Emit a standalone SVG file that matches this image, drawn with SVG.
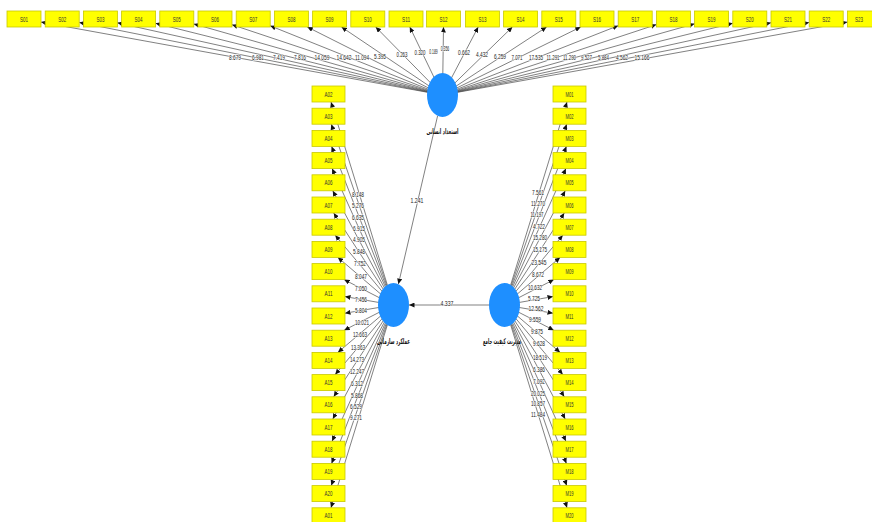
<svg xmlns="http://www.w3.org/2000/svg" width="872" height="522" viewBox="0 0 872 522">
<defs>
<marker id="ah" markerUnits="userSpaceOnUse" markerWidth="6" markerHeight="5" refX="5.5" refY="2.5" orient="auto">
<path d="M0,0 L5.5,2.5 L0,5 z" fill="#111"/>
</marker>
<style>
.box{fill:#ffff00;stroke:#c9c900;stroke-width:0.8}
.bl{font-family:"Liberation Sans",Arial,sans-serif;font-size:7.5px;fill:#333;text-anchor:middle}
.c{fill:#1e8fff}
.cn line{stroke:#4a4a4a;stroke-width:0.7;marker-end:url(#ah)}
.lb{font-family:"Liberation Sans",Arial,sans-serif;font-size:7.5px;fill:#222;text-anchor:middle;stroke:#fff;stroke-width:1.2px;paint-order:stroke;stroke-linejoin:round}
.ar{font-family:"DejaVu Sans",sans-serif;font-size:8px;font-weight:bold;fill:#111;text-anchor:middle}
</style>
</defs>
<rect width="872" height="522" fill="#fff"/>
<g id="connectors" class="cn">
<line x1="442.5" y1="95" x2="41" y2="22.1"/>
<line x1="442.5" y1="95" x2="79.2" y2="22.4"/>
<line x1="442.5" y1="95" x2="117.4" y2="22.8"/>
<line x1="442.5" y1="95" x2="155.6" y2="23.3"/>
<line x1="442.5" y1="95" x2="193.8" y2="23.9"/>
<line x1="442.5" y1="95" x2="232" y2="24.7"/>
<line x1="442.5" y1="95" x2="270.2" y2="25.8"/>
<line x1="442.5" y1="95" x2="307.3" y2="27"/>
<line x1="442.5" y1="95" x2="341.5" y2="27"/>
<line x1="442.5" y1="95" x2="375.7" y2="27"/>
<line x1="442.5" y1="95" x2="409.8" y2="27"/>
<line x1="442.5" y1="95" x2="443.5" y2="27"/>
<line x1="442.5" y1="95" x2="478.2" y2="27"/>
<line x1="442.5" y1="95" x2="512.4" y2="27"/>
<line x1="442.5" y1="95" x2="546.6" y2="27"/>
<line x1="442.5" y1="95" x2="580.7" y2="27"/>
<line x1="442.5" y1="95" x2="618.2" y2="25.7"/>
<line x1="442.5" y1="95" x2="656.4" y2="24.6"/>
<line x1="442.5" y1="95" x2="694.6" y2="23.8"/>
<line x1="442.5" y1="95" x2="732.8" y2="23.2"/>
<line x1="442.5" y1="95" x2="771" y2="22.7"/>
<line x1="442.5" y1="95" x2="809.2" y2="22.4"/>
<line x1="442.5" y1="95" x2="847.4" y2="22.1"/>

<line x1="393.5" y1="305" x2="331" y2="102"/>
<line x1="393.5" y1="305" x2="331.3" y2="124.2"/>
<line x1="393.5" y1="305" x2="331.6" y2="146.4"/>
<line x1="393.5" y1="305" x2="332.1" y2="168.6"/>
<line x1="393.5" y1="305" x2="332.8" y2="190.8"/>
<line x1="393.5" y1="305" x2="333.7" y2="213"/>
<line x1="393.5" y1="305" x2="335.2" y2="235.2"/>
<line x1="393.5" y1="305" x2="337.9" y2="257.4"/>
<line x1="393.5" y1="305" x2="344.1" y2="279.6"/>
<line x1="393.5" y1="305" x2="345" y2="296.6"/>
<line x1="393.5" y1="305" x2="345" y2="313.2"/>
<line x1="393.5" y1="305" x2="344.2" y2="330.2"/>
<line x1="393.5" y1="305" x2="337.9" y2="352.4"/>
<line x1="393.5" y1="305" x2="335.2" y2="374.6"/>
<line x1="393.5" y1="305" x2="333.7" y2="396.8"/>
<line x1="393.5" y1="305" x2="332.8" y2="419"/>
<line x1="393.5" y1="305" x2="332.1" y2="441.2"/>
<line x1="393.5" y1="305" x2="331.6" y2="463.4"/>
<line x1="393.5" y1="305" x2="331.3" y2="485.6"/>
<line x1="393.5" y1="305" x2="331" y2="507.8"/>

<line x1="504.5" y1="305" x2="567" y2="102"/>
<line x1="504.5" y1="305" x2="566.7" y2="124.2"/>
<line x1="504.5" y1="305" x2="566.4" y2="146.4"/>
<line x1="504.5" y1="305" x2="565.9" y2="168.6"/>
<line x1="504.5" y1="305" x2="565.2" y2="190.8"/>
<line x1="504.5" y1="305" x2="564.3" y2="213"/>
<line x1="504.5" y1="305" x2="562.8" y2="235.2"/>
<line x1="504.5" y1="305" x2="560.1" y2="257.4"/>
<line x1="504.5" y1="305" x2="553.9" y2="279.6"/>
<line x1="504.5" y1="305" x2="553" y2="296.6"/>
<line x1="504.5" y1="305" x2="553" y2="313.2"/>
<line x1="504.5" y1="305" x2="553.8" y2="330.2"/>
<line x1="504.5" y1="305" x2="560.1" y2="352.4"/>
<line x1="504.5" y1="305" x2="562.8" y2="374.6"/>
<line x1="504.5" y1="305" x2="564.3" y2="396.8"/>
<line x1="504.5" y1="305" x2="565.2" y2="419"/>
<line x1="504.5" y1="305" x2="565.9" y2="441.2"/>
<line x1="504.5" y1="305" x2="566.4" y2="463.4"/>
<line x1="504.5" y1="305" x2="566.7" y2="485.6"/>
<line x1="504.5" y1="305" x2="567" y2="507.8"/>

<line x1="437.6" y1="115.9" x2="398.4" y2="284.1"/>
<line x1="489" y1="305" x2="409" y2="305"/>
</g>

<g id="edge-labels">
<text class="lb" x="235" y="60" textLength="12" lengthAdjust="spacingAndGlyphs">8.679</text>
<text class="lb" x="258" y="60" textLength="12" lengthAdjust="spacingAndGlyphs">6.981</text>
<text class="lb" x="279" y="60" textLength="12" lengthAdjust="spacingAndGlyphs">7.419</text>
<text class="lb" x="300" y="60" textLength="12" lengthAdjust="spacingAndGlyphs">7.816</text>
<text class="lb" x="322" y="60" textLength="15" lengthAdjust="spacingAndGlyphs">14.059</text>
<text class="lb" x="344" y="60" textLength="15" lengthAdjust="spacingAndGlyphs">14.642</text>
<text class="lb" x="362" y="60" textLength="14" lengthAdjust="spacingAndGlyphs">11.094</text>
<text class="lb" x="380" y="59" textLength="12" lengthAdjust="spacingAndGlyphs">5.395</text>
<text class="lb" x="402" y="57" textLength="11" lengthAdjust="spacingAndGlyphs">0.263</text>
<text class="lb" x="420" y="55" textLength="11" lengthAdjust="spacingAndGlyphs">0.320</text>
<text class="lb" x="433.5" y="54" textLength="8.5" lengthAdjust="spacingAndGlyphs">0.189</text>
<text class="lb" x="445" y="51" textLength="8.5" lengthAdjust="spacingAndGlyphs">0.356</text>
<text class="lb" x="464" y="55" textLength="12" lengthAdjust="spacingAndGlyphs">0.662</text>
<text class="lb" x="482" y="57" textLength="12" lengthAdjust="spacingAndGlyphs">4.432</text>
<text class="lb" x="500" y="59" textLength="12" lengthAdjust="spacingAndGlyphs">6.259</text>
<text class="lb" x="517" y="60" textLength="11" lengthAdjust="spacingAndGlyphs">7.071</text>
<text class="lb" x="536" y="60" textLength="14" lengthAdjust="spacingAndGlyphs">17.535</text>
<text class="lb" x="553" y="60" textLength="13" lengthAdjust="spacingAndGlyphs">11.291</text>
<text class="lb" x="569.5" y="60" textLength="13" lengthAdjust="spacingAndGlyphs">11.290</text>
<text class="lb" x="586.5" y="60" textLength="11" lengthAdjust="spacingAndGlyphs">9.527</text>
<text class="lb" x="603.5" y="60" textLength="11" lengthAdjust="spacingAndGlyphs">5.884</text>
<text class="lb" x="622" y="60" textLength="12" lengthAdjust="spacingAndGlyphs">4.562</text>
<text class="lb" x="642" y="60" textLength="15" lengthAdjust="spacingAndGlyphs">15.166</text>

<text class="lb" x="358" y="197" textLength="12" lengthAdjust="spacingAndGlyphs">8.148</text>
<text class="lb" x="358" y="208" textLength="12" lengthAdjust="spacingAndGlyphs">5.276</text>
<text class="lb" x="358" y="220" textLength="12" lengthAdjust="spacingAndGlyphs">6.635</text>
<text class="lb" x="359" y="231" textLength="12" lengthAdjust="spacingAndGlyphs">6.915</text>
<text class="lb" x="359" y="242" textLength="12" lengthAdjust="spacingAndGlyphs">4.905</text>
<text class="lb" x="359" y="254" textLength="12" lengthAdjust="spacingAndGlyphs">5.848</text>
<text class="lb" x="360" y="266" textLength="12" lengthAdjust="spacingAndGlyphs">7.752</text>
<text class="lb" x="361" y="279" textLength="12" lengthAdjust="spacingAndGlyphs">8.047</text>
<text class="lb" x="361" y="291" textLength="12" lengthAdjust="spacingAndGlyphs">7.050</text>
<text class="lb" x="361" y="302" textLength="12" lengthAdjust="spacingAndGlyphs">7.456</text>
<text class="lb" x="361" y="313" textLength="12" lengthAdjust="spacingAndGlyphs">5.804</text>
<text class="lb" x="362" y="325" textLength="14" lengthAdjust="spacingAndGlyphs">10.021</text>
<text class="lb" x="360" y="337" textLength="14" lengthAdjust="spacingAndGlyphs">12.663</text>
<text class="lb" x="358" y="350" textLength="14" lengthAdjust="spacingAndGlyphs">13.363</text>
<text class="lb" x="357" y="362" textLength="14" lengthAdjust="spacingAndGlyphs">14.273</text>
<text class="lb" x="357" y="374" textLength="14" lengthAdjust="spacingAndGlyphs">12.247</text>
<text class="lb" x="357" y="386" textLength="12" lengthAdjust="spacingAndGlyphs">6.312</text>
<text class="lb" x="357" y="398" textLength="12" lengthAdjust="spacingAndGlyphs">5.868</text>
<text class="lb" x="356" y="409" textLength="12" lengthAdjust="spacingAndGlyphs">6.529</text>
<text class="lb" x="356" y="420" textLength="12" lengthAdjust="spacingAndGlyphs">9.271</text>

<text class="lb" x="538" y="195" textLength="12" lengthAdjust="spacingAndGlyphs">7.561</text>
<text class="lb" x="538" y="206" textLength="14" lengthAdjust="spacingAndGlyphs">11.270</text>
<text class="lb" x="537" y="217" textLength="13" lengthAdjust="spacingAndGlyphs">11.197</text>
<text class="lb" x="539" y="229" textLength="12" lengthAdjust="spacingAndGlyphs">4.722</text>
<text class="lb" x="540" y="240" textLength="14" lengthAdjust="spacingAndGlyphs">15.280</text>
<text class="lb" x="540" y="252" textLength="14" lengthAdjust="spacingAndGlyphs">15.175</text>
<text class="lb" x="539" y="265" textLength="15" lengthAdjust="spacingAndGlyphs">23.545</text>
<text class="lb" x="538" y="277" textLength="12" lengthAdjust="spacingAndGlyphs">8.672</text>
<text class="lb" x="535" y="290" textLength="14" lengthAdjust="spacingAndGlyphs">10.632</text>
<text class="lb" x="534" y="300.5" textLength="12" lengthAdjust="spacingAndGlyphs">5.725</text>
<text class="lb" x="536" y="311" textLength="15" lengthAdjust="spacingAndGlyphs">12.562</text>
<text class="lb" x="535" y="321.5" textLength="12" lengthAdjust="spacingAndGlyphs">9.559</text>
<text class="lb" x="537" y="334" textLength="12" lengthAdjust="spacingAndGlyphs">9.875</text>
<text class="lb" x="539" y="346" textLength="12" lengthAdjust="spacingAndGlyphs">9.628</text>
<text class="lb" x="540" y="360" textLength="14" lengthAdjust="spacingAndGlyphs">18.519</text>
<text class="lb" x="539" y="372" textLength="12" lengthAdjust="spacingAndGlyphs">6.386</text>
<text class="lb" x="539" y="384" textLength="12" lengthAdjust="spacingAndGlyphs">7.092</text>
<text class="lb" x="538" y="395.5" textLength="14" lengthAdjust="spacingAndGlyphs">20.025</text>
<text class="lb" x="538" y="406" textLength="14" lengthAdjust="spacingAndGlyphs">10.857</text>
<text class="lb" x="538" y="416.5" textLength="14" lengthAdjust="spacingAndGlyphs">11.484</text>

<text class="lb" x="417" y="203" textLength="13" lengthAdjust="spacingAndGlyphs">1.241</text>
<text class="lb" x="447" y="306" textLength="13" lengthAdjust="spacingAndGlyphs">4.337</text>
</g>

<g id="node-S">
<g id="S01"><rect class="box" x="7" y="11" width="34" height="16"/><text class="bl" x="24" y="21.5" textLength="8" lengthAdjust="spacingAndGlyphs">S01</text></g>
<g id="S02"><rect class="box" x="45.2" y="11" width="34" height="16"/><text class="bl" x="62.2" y="21.5" textLength="8" lengthAdjust="spacingAndGlyphs">S02</text></g>
<g id="S03"><rect class="box" x="83.4" y="11" width="34" height="16"/><text class="bl" x="100.4" y="21.5" textLength="8" lengthAdjust="spacingAndGlyphs">S03</text></g>
<g id="S04"><rect class="box" x="121.6" y="11" width="34" height="16"/><text class="bl" x="138.6" y="21.5" textLength="8" lengthAdjust="spacingAndGlyphs">S04</text></g>
<g id="S05"><rect class="box" x="159.8" y="11" width="34" height="16"/><text class="bl" x="176.8" y="21.5" textLength="8" lengthAdjust="spacingAndGlyphs">S05</text></g>
<g id="S06"><rect class="box" x="198" y="11" width="34" height="16"/><text class="bl" x="215" y="21.5" textLength="8" lengthAdjust="spacingAndGlyphs">S06</text></g>
<g id="S07"><rect class="box" x="236.2" y="11" width="34" height="16"/><text class="bl" x="253.2" y="21.5" textLength="8" lengthAdjust="spacingAndGlyphs">S07</text></g>
<g id="S08"><rect class="box" x="274.4" y="11" width="34" height="16"/><text class="bl" x="291.4" y="21.5" textLength="8" lengthAdjust="spacingAndGlyphs">S08</text></g>
<g id="S09"><rect class="box" x="312.6" y="11" width="34" height="16"/><text class="bl" x="329.6" y="21.5" textLength="8" lengthAdjust="spacingAndGlyphs">S09</text></g>
<g id="S10"><rect class="box" x="350.8" y="11" width="34" height="16"/><text class="bl" x="367.8" y="21.5" textLength="8" lengthAdjust="spacingAndGlyphs">S10</text></g>
<g id="S11"><rect class="box" x="389" y="11" width="34" height="16"/><text class="bl" x="406" y="21.5" textLength="8" lengthAdjust="spacingAndGlyphs">S11</text></g>
<g id="S12"><rect class="box" x="426.5" y="11" width="34" height="16"/><text class="bl" x="443.5" y="21.5" textLength="8" lengthAdjust="spacingAndGlyphs">S12</text></g>
<g id="S13"><rect class="box" x="465.4" y="11" width="34" height="16"/><text class="bl" x="482.4" y="21.5" textLength="8" lengthAdjust="spacingAndGlyphs">S13</text></g>
<g id="S14"><rect class="box" x="503.6" y="11" width="34" height="16"/><text class="bl" x="520.6" y="21.5" textLength="8" lengthAdjust="spacingAndGlyphs">S14</text></g>
<g id="S15"><rect class="box" x="541.8" y="11" width="34" height="16"/><text class="bl" x="558.8" y="21.5" textLength="8" lengthAdjust="spacingAndGlyphs">S15</text></g>
<g id="S16"><rect class="box" x="580" y="11" width="34" height="16"/><text class="bl" x="597" y="21.5" textLength="8" lengthAdjust="spacingAndGlyphs">S16</text></g>
<g id="S17"><rect class="box" x="618.2" y="11" width="34" height="16"/><text class="bl" x="635.2" y="21.5" textLength="8" lengthAdjust="spacingAndGlyphs">S17</text></g>
<g id="S18"><rect class="box" x="656.4" y="11" width="34" height="16"/><text class="bl" x="673.4" y="21.5" textLength="8" lengthAdjust="spacingAndGlyphs">S18</text></g>
<g id="S19"><rect class="box" x="694.6" y="11" width="34" height="16"/><text class="bl" x="711.6" y="21.5" textLength="8" lengthAdjust="spacingAndGlyphs">S19</text></g>
<g id="S20"><rect class="box" x="732.8" y="11" width="34" height="16"/><text class="bl" x="749.8" y="21.5" textLength="8" lengthAdjust="spacingAndGlyphs">S20</text></g>
<g id="S21"><rect class="box" x="771" y="11" width="34" height="16"/><text class="bl" x="788" y="21.5" textLength="8" lengthAdjust="spacingAndGlyphs">S21</text></g>
<g id="S22"><rect class="box" x="809.2" y="11" width="34" height="16"/><text class="bl" x="826.2" y="21.5" textLength="8" lengthAdjust="spacingAndGlyphs">S22</text></g>
<g id="S23"><rect class="box" x="847.4" y="11" width="34" height="16"/><text class="bl" x="859" y="21.5" textLength="8" lengthAdjust="spacingAndGlyphs">S23</text></g>
</g>

<g id="node-A">
<g id="A02"><rect class="box" x="312" y="86" width="33" height="16"/><text class="bl" x="328.5" y="96.5" textLength="8" lengthAdjust="spacingAndGlyphs">A02</text></g>
<g id="A03"><rect class="box" x="312" y="108.2" width="33" height="16"/><text class="bl" x="328.5" y="118.7" textLength="8" lengthAdjust="spacingAndGlyphs">A03</text></g>
<g id="A04"><rect class="box" x="312" y="130.4" width="33" height="16"/><text class="bl" x="328.5" y="140.9" textLength="8" lengthAdjust="spacingAndGlyphs">A04</text></g>
<g id="A05"><rect class="box" x="312" y="152.6" width="33" height="16"/><text class="bl" x="328.5" y="163.1" textLength="8" lengthAdjust="spacingAndGlyphs">A05</text></g>
<g id="A06"><rect class="box" x="312" y="174.8" width="33" height="16"/><text class="bl" x="328.5" y="185.3" textLength="8" lengthAdjust="spacingAndGlyphs">A06</text></g>
<g id="A07"><rect class="box" x="312" y="197" width="33" height="16"/><text class="bl" x="328.5" y="207.5" textLength="8" lengthAdjust="spacingAndGlyphs">A07</text></g>
<g id="A08"><rect class="box" x="312" y="219.2" width="33" height="16"/><text class="bl" x="328.5" y="229.7" textLength="8" lengthAdjust="spacingAndGlyphs">A08</text></g>
<g id="A09"><rect class="box" x="312" y="241.4" width="33" height="16"/><text class="bl" x="328.5" y="251.9" textLength="8" lengthAdjust="spacingAndGlyphs">A09</text></g>
<g id="A10"><rect class="box" x="312" y="263.6" width="33" height="16"/><text class="bl" x="328.5" y="274.1" textLength="8" lengthAdjust="spacingAndGlyphs">A10</text></g>
<g id="A11"><rect class="box" x="312" y="285.8" width="33" height="16"/><text class="bl" x="328.5" y="296.3" textLength="8" lengthAdjust="spacingAndGlyphs">A11</text></g>
<g id="A12"><rect class="box" x="312" y="308" width="33" height="16"/><text class="bl" x="328.5" y="318.5" textLength="8" lengthAdjust="spacingAndGlyphs">A12</text></g>
<g id="A13"><rect class="box" x="312" y="330.2" width="33" height="16"/><text class="bl" x="328.5" y="340.7" textLength="8" lengthAdjust="spacingAndGlyphs">A13</text></g>
<g id="A14"><rect class="box" x="312" y="352.4" width="33" height="16"/><text class="bl" x="328.5" y="362.9" textLength="8" lengthAdjust="spacingAndGlyphs">A14</text></g>
<g id="A15"><rect class="box" x="312" y="374.6" width="33" height="16"/><text class="bl" x="328.5" y="385.1" textLength="8" lengthAdjust="spacingAndGlyphs">A15</text></g>
<g id="A16"><rect class="box" x="312" y="396.8" width="33" height="16"/><text class="bl" x="328.5" y="407.3" textLength="8" lengthAdjust="spacingAndGlyphs">A16</text></g>
<g id="A17"><rect class="box" x="312" y="419" width="33" height="16"/><text class="bl" x="328.5" y="429.5" textLength="8" lengthAdjust="spacingAndGlyphs">A17</text></g>
<g id="A18"><rect class="box" x="312" y="441.2" width="33" height="16"/><text class="bl" x="328.5" y="451.7" textLength="8" lengthAdjust="spacingAndGlyphs">A18</text></g>
<g id="A19"><rect class="box" x="312" y="463.4" width="33" height="16"/><text class="bl" x="328.5" y="473.9" textLength="8" lengthAdjust="spacingAndGlyphs">A19</text></g>
<g id="A20"><rect class="box" x="312" y="485.6" width="33" height="16"/><text class="bl" x="328.5" y="496.1" textLength="8" lengthAdjust="spacingAndGlyphs">A20</text></g>
<g id="A01"><rect class="box" x="312" y="507.8" width="33" height="16"/><text class="bl" x="328.5" y="518.3" textLength="8" lengthAdjust="spacingAndGlyphs">A01</text></g>
</g>

<g id="node-M">
<g id="M01"><rect class="box" x="553" y="86" width="33" height="16"/><text class="bl" x="569.5" y="96.5" textLength="8" lengthAdjust="spacingAndGlyphs">M01</text></g>
<g id="M02"><rect class="box" x="553" y="108.2" width="33" height="16"/><text class="bl" x="569.5" y="118.7" textLength="8" lengthAdjust="spacingAndGlyphs">M02</text></g>
<g id="M03"><rect class="box" x="553" y="130.4" width="33" height="16"/><text class="bl" x="569.5" y="140.9" textLength="8" lengthAdjust="spacingAndGlyphs">M03</text></g>
<g id="M04"><rect class="box" x="553" y="152.6" width="33" height="16"/><text class="bl" x="569.5" y="163.1" textLength="8" lengthAdjust="spacingAndGlyphs">M04</text></g>
<g id="M05"><rect class="box" x="553" y="174.8" width="33" height="16"/><text class="bl" x="569.5" y="185.3" textLength="8" lengthAdjust="spacingAndGlyphs">M05</text></g>
<g id="M06"><rect class="box" x="553" y="197" width="33" height="16"/><text class="bl" x="569.5" y="207.5" textLength="8" lengthAdjust="spacingAndGlyphs">M06</text></g>
<g id="M07"><rect class="box" x="553" y="219.2" width="33" height="16"/><text class="bl" x="569.5" y="229.7" textLength="8" lengthAdjust="spacingAndGlyphs">M07</text></g>
<g id="M08"><rect class="box" x="553" y="241.4" width="33" height="16"/><text class="bl" x="569.5" y="251.9" textLength="8" lengthAdjust="spacingAndGlyphs">M08</text></g>
<g id="M09"><rect class="box" x="553" y="263.6" width="33" height="16"/><text class="bl" x="569.5" y="274.1" textLength="8" lengthAdjust="spacingAndGlyphs">M09</text></g>
<g id="M10"><rect class="box" x="553" y="285.8" width="33" height="16"/><text class="bl" x="569.5" y="296.3" textLength="8" lengthAdjust="spacingAndGlyphs">M10</text></g>
<g id="M11"><rect class="box" x="553" y="308" width="33" height="16"/><text class="bl" x="569.5" y="318.5" textLength="8" lengthAdjust="spacingAndGlyphs">M11</text></g>
<g id="M12"><rect class="box" x="553" y="330.2" width="33" height="16"/><text class="bl" x="569.5" y="340.7" textLength="8" lengthAdjust="spacingAndGlyphs">M12</text></g>
<g id="M13"><rect class="box" x="553" y="352.4" width="33" height="16"/><text class="bl" x="569.5" y="362.9" textLength="8" lengthAdjust="spacingAndGlyphs">M13</text></g>
<g id="M14"><rect class="box" x="553" y="374.6" width="33" height="16"/><text class="bl" x="569.5" y="385.1" textLength="8" lengthAdjust="spacingAndGlyphs">M14</text></g>
<g id="M15"><rect class="box" x="553" y="396.8" width="33" height="16"/><text class="bl" x="569.5" y="407.3" textLength="8" lengthAdjust="spacingAndGlyphs">M15</text></g>
<g id="M16"><rect class="box" x="553" y="419" width="33" height="16"/><text class="bl" x="569.5" y="429.5" textLength="8" lengthAdjust="spacingAndGlyphs">M16</text></g>
<g id="M17"><rect class="box" x="553" y="441.2" width="33" height="16"/><text class="bl" x="569.5" y="451.7" textLength="8" lengthAdjust="spacingAndGlyphs">M17</text></g>
<g id="M18"><rect class="box" x="553" y="463.4" width="33" height="16"/><text class="bl" x="569.5" y="473.9" textLength="8" lengthAdjust="spacingAndGlyphs">M18</text></g>
<g id="M19"><rect class="box" x="553" y="485.6" width="33" height="16"/><text class="bl" x="569.5" y="496.1" textLength="8" lengthAdjust="spacingAndGlyphs">M19</text></g>
<g id="M20"><rect class="box" x="553" y="507.8" width="33" height="16"/><text class="bl" x="569.5" y="518.3" textLength="8" lengthAdjust="spacingAndGlyphs">M20</text></g>
</g>

<g id="latent-S"><ellipse class="c" cx="442.5" cy="95" rx="15.5" ry="22"/><text class="ar" x="442.5" y="134" textLength="32" lengthAdjust="spacingAndGlyphs">استعداد انسانی</text></g>
<g id="latent-A"><ellipse class="c" cx="393.5" cy="305" rx="15.5" ry="22"/><text class="ar" x="393.5" y="344" textLength="33" lengthAdjust="spacingAndGlyphs">عملکرد سازمانی</text></g>
<g id="latent-M"><ellipse class="c" cx="504.5" cy="305" rx="15.5" ry="22"/><text class="ar" x="502" y="344" textLength="38" lengthAdjust="spacingAndGlyphs">مدیریت کیفیت جامع</text></g>
</svg>
